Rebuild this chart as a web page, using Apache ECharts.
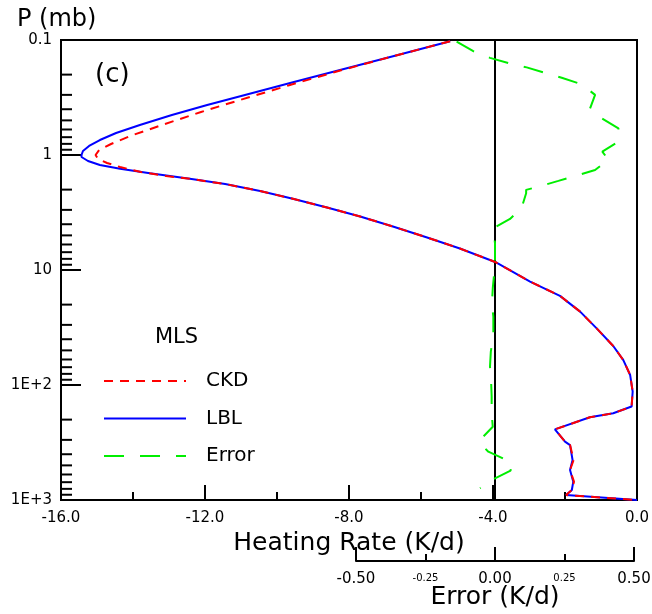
<!DOCTYPE html>
<html>
<head>
<meta charset="utf-8">
<script src="https://cdn.jsdelivr.net/npm/echarts@6/dist/echarts.min.js"></script>
<style>html,body{margin:0;padding:0;background:#fff}#c{width:652px;height:614px}</style>
</head>
<body>
<div id="c"></div>
<script>
// ---- data ----
const lblP = [0.1026, 0.1377, 0.1823, 0.2318, 0.3008, 0.3674, 0.4490, 0.5483, 0.6438, 0.7408, 0.835, 0.923, 1.0, 1.041, 1.128, 1.222, 1.318, 1.440, 1.611, 1.787, 2.056, 2.404, 2.861, 3.426, 4.184, 5.217, 6.502, 8.518, 12.6, 16.8, 23.0, 32.2, 45.8, 60.7, 81.9, 114, 154, 176, 191, 243, 311, 333, 449, 549, 693, 819, 906, 1000];
const lblH = [-5.19, -6.75, -8.25, -9.53, -10.89, -11.94, -12.92, -13.81, -14.47, -14.92, -15.22, -15.39, -15.43, -15.43, -15.25, -14.92, -14.36, -13.53, -12.42, -11.44, -10.47, -9.56, -8.61, -7.69, -6.78, -5.83, -4.92, -3.94, -2.97, -2.14, -1.58, -1.12, -0.66, -0.38, -0.19, -0.12, -0.15, -0.66, -1.31, -2.28, -2.00, -1.86, -1.79, -1.86, -1.77, -1.81, -1.97, 0.0];

const ckdP = [0.1026, 0.1377, 0.1823, 0.2462, 0.3324, 0.4228, 0.5375, 0.6837, 0.8022, 0.9048, 1.0, 1.083, 1.174, 1.272, 1.406, 1.522, 1.617, 1.787, 2.056, 2.404, 2.861, 3.426, 4.184, 5.217, 6.502, 8.518, 12.6, 16.8, 23.0, 32.2, 45.8, 60.7, 81.9, 114, 154, 176, 191, 243, 311, 333, 449, 549, 693, 819, 906, 1000];
const ckdH = [-5.19, -6.75, -8.19, -9.64, -11.03, -12.11, -13.11, -14.08, -14.61, -14.94, -15.04, -14.97, -14.72, -14.36, -13.78, -13.08, -12.39, -11.44, -10.47, -9.56, -8.61, -7.69, -6.78, -5.83, -4.92, -3.94, -2.97, -2.14, -1.58, -1.12, -0.66, -0.38, -0.19, -0.12, -0.15, -0.66, -1.31, -2.28, -2.00, -1.86, -1.76, -1.86, -1.75, -1.81, -1.97, 0.0];

const errP = [0.1035, 0.125, 0.143, 0.160, 0.173, 0.195, 0.213, 0.243, 0.30, 0.393, 0.48, 0.586, 0.766, 0.935, 1.10, 1.35, 1.51, 1.68, 1.85, 2.01, 2.15, 2.87, 3.60, 4.34, 5.86, 7.2, 9.05, 14.4, 19.5, 25.5, 36.7, 51.3, 69.2, 93.5, 126, 176, 231, 291, 322, 380, 443, 480, 556, 661, 791];
const errV = [-0.138, -0.078, -0.018, 0.054, 0.114, 0.186, 0.240, 0.312, 0.360, 0.342, 0.384, 0.444, 0.444, 0.386, 0.408, 0.360, 0.294, 0.228, 0.168, 0.112, 0.112, 0.096, 0.054, -0.006, 0.0, 0.0, 0.0, -0.008, -0.011, -0.006, -0.006, -0.015, -0.018, -0.014, -0.012, -0.012, -0.008, -0.048, -0.054, -0.024, 0.036, 0.060, 0.056, -0.006, -0.054];

const yTickLabels = ['0.1', '1', '10', '1E+2', '1E+3'];
const xTickLabels = ['-16.0', '-12.0', '-8.0', '-4.0', '0.0'];
const errTickLabels = ['-0.50', '-0.25', '0.00', '0.25', '0.50'];
const yMinorTicks = [0.2,0.3,0.4,0.5,0.6,0.7,0.8,0.9, 2,3,4,5,6,7,8,9, 20,30,40,50,60,70,80,90, 200,300,400,500,600,700,800,900];
const seriesNames = ['CKD', 'LBL', 'Error'];

const xMin = -16, xMax = 0, pMin = 0.1, pMax = 1000;
const FONT = 'DejaVu Sans';

const zip = (a, b) => a.map((v, i) => [b[i], v]);

const chart = echarts.init(document.getElementById('c'), null, {renderer: 'canvas'});
const lbl = l => { const i = xTickLabels.findIndex(s => Math.abs(parseFloat(s) - l) < 1e-6); return i >= 0 ? xTickLabels[i] : ''; };
const elbl = (l, small) => {
  const i = errTickLabels.findIndex(s => Math.abs(parseFloat(s) - l) < 1e-6);
  if (i < 0) return '';
  const isSmall = Math.abs(Math.abs(l) - 0.25) < 1e-6;
  return (isSmall === small) ? errTickLabels[i] : '';
};

chart.setOption({
  animation: false,
  backgroundColor: '#fff',
  textStyle: {fontFamily: FONT},
  grid: [
    {left: 61, top: 40, width: 576, height: 460, show: true, borderColor: '#000', borderWidth: 2, backgroundColor: 'transparent', containLabel: false, outerBoundsMode: 'none'},
    {left: 356, top: 40, width: 278, height: 460, show: false, containLabel: false, outerBoundsMode: 'none'}
  ],
  legend: {
    data: seriesNames,
    orient: 'vertical', left: 98, top: 366,
    itemWidth: 82, itemHeight: 14, itemGap: 17.5,
    itemStyle: {color: 'transparent', borderWidth: 0, opacity: 0},
    textStyle: {fontFamily: FONT, fontSize: 20, color: '#000', padding: [0, 0, 0, 15]}
  },
  xAxis: [
    {
      type: 'value', gridIndex: 0, min: xMin, max: xMax, interval: 4, position: 'bottom',
      axisLine: {show: true, onZero: false, lineStyle: {color: '#000', width: 2}},
      axisTick: {show: true, inside: true, length: 15, lineStyle: {color: '#000', width: 2}},
      minorTick: {show: true, splitNumber: 2, length: 8, lineStyle: {color: '#000', width: 2}},
      splitLine: {show: false},
      axisLabel: {fontFamily: FONT, fontSize: 15, color: '#000', margin: 11, formatter: v => lbl(v), showMinLabel: true, showMaxLabel: true},
      name: 'Heating Rate (K/d)', nameLocation: 'middle', nameGap: 28,
      nameTextStyle: {fontFamily: FONT, fontSize: 25, color: '#000'}
    },
    {
      type: 'value', gridIndex: 1, min: -0.5, max: 0.5, interval: 0.5, position: 'bottom', offset: 61,
      axisLine: {show: true, onZero: false, lineStyle: {color: '#000', width: 2}},
      axisTick: {show: true, inside: true, length: 14, lineStyle: {color: '#000', width: 2}},
      splitLine: {show: false},
      axisLabel: {fontFamily: FONT, fontSize: 15, color: '#000', margin: 11, formatter: v => elbl(v, false), showMinLabel: true, showMaxLabel: true},
      name: 'Error (K/d)', nameLocation: 'middle', nameGap: 24, nameMoveOverlap: false,
      nameTextStyle: {fontFamily: FONT, fontSize: 25, color: '#000'}
    },
    {
      type: 'value', gridIndex: 1, min: -0.5, max: 0.5, interval: 0.25, position: 'bottom', offset: 61,
      axisLine: {show: false, onZero: false},
      axisTick: {show: true, inside: true, length: 7, lineStyle: {color: '#000', width: 2}},
      splitLine: {show: false},
      axisLabel: {fontFamily: FONT, fontSize: 10, color: '#000', margin: 12, formatter: v => elbl(v, true)}
    }
  ],
  yAxis: [
    {
      type: 'log', logBase: 10, gridIndex: 0, min: pMin, max: pMax, inverse: true, position: 'left',
      axisLine: {show: true, onZero: false, lineStyle: {color: '#000', width: 2}},
      axisTick: {show: true, inside: true, length: 20, lineStyle: {color: '#000', width: 2}},
      splitLine: {show: false},
      axisLabel: {fontFamily: FONT, fontSize: 15, color: '#000', margin: 9,
        formatter: v => { const e = Math.round(Math.log10(v)); return yTickLabels[e + 1] || ''; }}
    },
    {
      type: 'log', logBase: 10, gridIndex: 1, min: pMin, max: pMax, inverse: true, show: false, position: 'left',
      axisLine: {show: false, onZero: false}, axisTick: {show: false}, axisLabel: {show: false}, splitLine: {show: false}
    }
  ],
  graphic: [
    {type: 'text', left: 17, top: 8, style: {text: 'P (mb)', font: '24px "DejaVu Sans"', fill: '#000'}},
    {type: 'text', left: 95, top: 62, style: {text: '(c)', font: '26px "DejaVu Sans"', fill: '#000'}},
    {type: 'text', left: 155, top: 327, style: {text: 'MLS', font: '21px "DejaVu Sans"', fill: '#000'}}
  ],
  series: [
    {
      type: 'custom', xAxisIndex: 0, yAxisIndex: 0, silent: true, z: 3,
      data: yMinorTicks.map(v => [xMin, v]),
      encode: {x: 0, y: 1},
      renderItem: (params, api) => {
        const p = api.coord([api.value(0), api.value(1)]);
        return {type: 'line', shape: {x1: p[0], y1: p[1], x2: p[0] + 11, y2: p[1]}, style: {stroke: '#000', lineWidth: 2}};
      }
    },
    {
      name: 'LBL', type: 'line', xAxisIndex: 0, yAxisIndex: 0, data: zip(lblP, lblH),
      symbol: 'none', showSymbol: false, smooth: false, z: 4,
      lineStyle: {color: '#0000ff', width: 2}, itemStyle: {color: '#0000ff'}
    },
    {
      name: 'CKD', type: 'line', xAxisIndex: 0, yAxisIndex: 0, data: zip(ckdP, ckdH),
      symbol: 'none', showSymbol: false, smooth: false, z: 5,
      lineStyle: {color: '#ff0000', width: 2, type: [9, 7]}, itemStyle: {color: '#ff0000'}
    },
    {
      name: 'Error', type: 'line', xAxisIndex: 1, yAxisIndex: 1, data: zip(errP, errV),
      symbol: 'none', showSymbol: false, smooth: false, z: 6,
      lineStyle: {color: '#00ee00', width: 2, type: [20, 16]}, itemStyle: {color: '#00ee00'},
      markLine: {
        silent: true, symbol: 'none', label: {show: false},
        lineStyle: {color: '#000', width: 2, type: 'solid'},
        data: [{xAxis: 0}]
      }
    }
  ]
});
</script>
</body>
</html>
